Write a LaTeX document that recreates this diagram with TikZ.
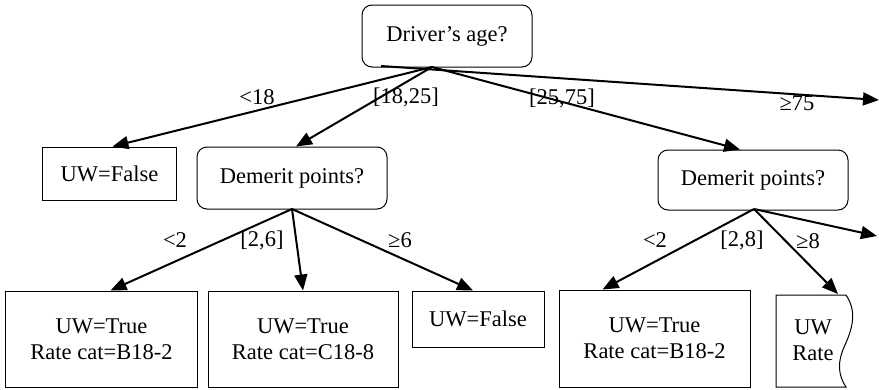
\documentclass[tikz,border=0pt]{standalone}
\usepackage{fontspec}
\setmainfont{Liberation Serif}
\usetikzlibrary{arrows.meta}
\begin{document}
\begin{tikzpicture}[x=1bp,y=-1bp,
  font=\fontsize{22.5bp}{26bp}\selectfont,
  decision/.style={draw,line width=1bp,rounded corners=10bp,inner sep=0pt},
  leaf/.style={draw,line width=1bp,inner sep=0pt,align=center},
  branch/.style={line width=2bp,-{Triangle[length=16bp,width=13bp]}},
  lbl/.style={inner sep=0pt}]
\useasboundingbox (0,0) rectangle (879,389);
% decision nodes
\node[decision,minimum width=170bp,minimum height=62bp] (age) at (447,36) {Driver’s age?};
\node[decision,minimum width=190bp,minimum height=62bp] (dem1) at (292,178) {Demerit points?};
\node[decision,minimum width=190bp,minimum height=60bp] (dem2) at (753,180) {Demerit points?};
% leaves
\node[leaf,minimum width=133bp,minimum height=53bp] (uwf1) at (109.5,173.5) {UW=False};
\node[leaf,minimum width=191bp,minimum height=96bp] (b1) at (101.5,339) {UW=True\\Rate cat=B18-2};
\node[leaf,minimum width=190bp,minimum height=96bp] (b2) at (303,339) {UW=True\\Rate cat=C18-8};
\node[leaf,minimum width=132bp,minimum height=56bp] (uwf2) at (478,319) {UW=False};
\node[leaf,minimum width=191bp,minimum height=97bp] (b4) at (654.5,338.5) {UW=True\\Rate cat=B18-2};
% cut-off leaf with a torn right edge
\draw[line width=1bp] (776,295) -- (846,295)
  .. controls (856,310) and (854,325) .. (845,345)
  .. controls (837,362) and (838,375) .. (846,387) -- (776,387) -- cycle;
\node[lbl,align=center] (uwr) at (813,340) {UW\\Rate};
\coordinate (uwrtop) at (838,294);
% branch origins and open ends
\coordinate (o1) at (432,67);
\coordinate (o1b) at (381,66);
\coordinate (o2) at (292,209);
\coordinate (o3) at (754,209);
\coordinate (out1) at (879,100);
\coordinate (out2) at (877,236);
% first split
\draw[branch] (o1) -- ([xshift=3bp]uwf1.north);
\draw[branch] (o1) -- ([xshift=4bp]dem1.north);
\draw[branch] (o1) -- ([xshift=-13bp]dem2.north);
\draw[branch] (o1b) -- (out1);
% second split, left
\draw[branch] (o2) -- ([xshift=9bp]b1.north);
\draw[branch] (o2) -- (b2.north);
\draw[branch] (o2) -- ([xshift=-5bp]uwf2.north);
% second split, right
\draw[branch] (o3) -- ([xshift=-52bp]b4.north);
\draw[branch] (o3) -- (uwrtop);
\draw[branch] (o3) -- (out2);
% branch labels
\node[lbl] (l1) at (257,97) {<18};
\node[lbl] (l2) at (406,97) {[18,25]};
\node[lbl] (l3) at (562,98) {[25,75]};
\node[lbl] (l4) at (797,103) {≥75};
\node[lbl] (l5) at (175,240) {<2};
\node[lbl] (l6) at (262,240) {[2,6]};
\node[lbl] (l7) at (400,240) {≥6};
\node[lbl] (l8) at (655,240) {<2};
\node[lbl] (l9) at (742,240) {[2,8]};
\node[lbl] (l10) at (808,241) {≥8};
\end{tikzpicture}
\end{document}
